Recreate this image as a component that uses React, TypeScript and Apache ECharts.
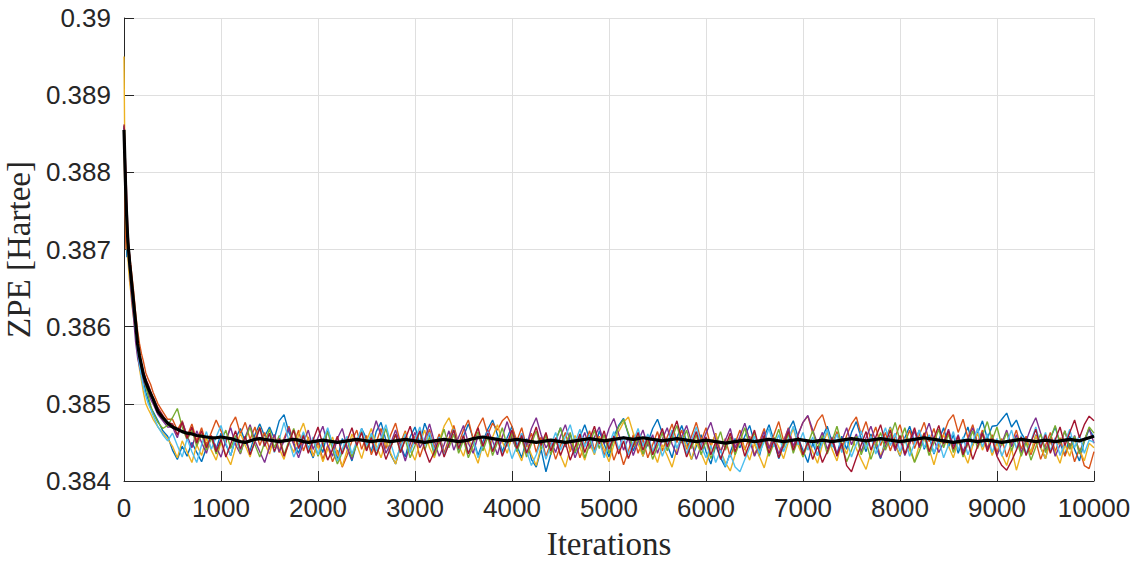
import { useEffect, useRef } from "react";
import * as echarts from "echarts";

// iteration grid shared by every run
const iterations = [
  0, 10, 20, 30, 40, 50, 60, 70, 80, 100, 120, 140, 160, 180, 200, 225, 250, 275, 300, 350, 400, 450,
  500, 550, 600, 650, 700, 750, 800, 850, 900, 950,
  1000, 1050, 1100, 1150, 1200, 1250, 1300, 1350, 1400, 1450,
  1500, 1550, 1600, 1650, 1700, 1750, 1800, 1850, 1900, 1950,
  2000, 2050, 2100, 2150, 2200, 2250, 2300, 2350, 2400, 2450,
  2500, 2550, 2600, 2650, 2700, 2750, 2800, 2850, 2900, 2950,
  3000, 3050, 3100, 3150, 3200, 3250, 3300, 3350, 3400, 3450,
  3500, 3550, 3600, 3650, 3700, 3750, 3800, 3850, 3900, 3950,
  4000, 4050, 4100, 4150, 4200, 4250, 4300, 4350, 4400, 4450,
  4500, 4550, 4600, 4650, 4700, 4750, 4800, 4850, 4900, 4950,
  5000, 5050, 5100, 5150, 5200, 5250, 5300, 5350, 5400, 5450,
  5500, 5550, 5600, 5650, 5700, 5750, 5800, 5850, 5900, 5950,
  6000, 6050, 6100, 6150, 6200, 6250, 6300, 6350, 6400, 6450,
  6500, 6550, 6600, 6650, 6700, 6750, 6800, 6850, 6900, 6950,
  7000, 7050, 7100, 7150, 7200, 7250, 7300, 7350, 7400, 7450,
  7500, 7550, 7600, 7650, 7700, 7750, 7800, 7850, 7900, 7950,
  8000, 8050, 8100, 8150, 8200, 8250, 8300, 8350, 8400, 8450,
  8500, 8550, 8600, 8650, 8700, 8750, 8800, 8850, 8900, 8950,
  9000, 9050, 9100, 9150, 9200, 9250, 9300, 9350, 9400, 9450,
  9500, 9550, 9600, 9650, 9700, 9750, 9800, 9850, 9900, 9950,
  10000,
];

// ZPE [Hartree] of each independent run
const runBlue = [
  0.38860, 0.38790, 0.38720, 0.38690, 0.38700, 0.38680, 0.38672, 0.38660, 0.38640, 0.38625, 0.38600,
  0.38570, 0.38555, 0.38540, 0.38530, 0.38515, 0.38505, 0.38495, 0.38490, 0.38478, 0.38465, 0.38458,
  0.38440, 0.38428, 0.38445, 0.38432, 0.38450, 0.38437, 0.38425, 0.38443, 0.38458, 0.38441,
  0.38462, 0.38447, 0.38433, 0.38455, 0.38468, 0.38451, 0.38439, 0.38460, 0.38474, 0.38458,
  0.38470, 0.38455, 0.38478, 0.38486, 0.38463, 0.38449, 0.38436, 0.38458, 0.38444, 0.38430,
  0.38452, 0.38437, 0.38466, 0.38448, 0.38429, 0.38455, 0.38442, 0.38426, 0.38449, 0.38468,
  0.38455, 0.38438, 0.38464, 0.38476, 0.38453, 0.38434, 0.38422, 0.38446, 0.38431, 0.38457,
  0.38470, 0.38449, 0.38475, 0.38458, 0.38437, 0.38460, 0.38435, 0.38452, 0.38469, 0.38440,
  0.38458, 0.38474, 0.38455, 0.38433, 0.38451, 0.38467, 0.38479, 0.38460, 0.38438, 0.38456,
  0.38471, 0.38446, 0.38430, 0.38455, 0.38428, 0.38418, 0.38441, 0.38412, 0.38435, 0.38452,
  0.38469, 0.38444, 0.38461, 0.38436, 0.38457, 0.38473, 0.38454, 0.38437, 0.38465, 0.38448,
  0.38431, 0.38458, 0.38472, 0.38481, 0.38460, 0.38439, 0.38456, 0.38432, 0.38450, 0.38468,
  0.38480, 0.38462, 0.38447, 0.38430, 0.38456, 0.38472, 0.38451, 0.38428, 0.38445, 0.38460,
  0.38438, 0.38422, 0.38446, 0.38430, 0.38418, 0.38437, 0.38455, 0.38443, 0.38458, 0.38472,
  0.38449, 0.38432, 0.38457, 0.38473, 0.38452, 0.38429, 0.38445, 0.38466, 0.38478, 0.38456,
  0.38440, 0.38424, 0.38449, 0.38433, 0.38457, 0.38471, 0.38450, 0.38434, 0.38458, 0.38441,
  0.38463, 0.38477, 0.38455, 0.38438, 0.38461, 0.38445, 0.38429, 0.38454, 0.38470, 0.38448,
  0.38432, 0.38456, 0.38471, 0.38450, 0.38466, 0.38441, 0.38458, 0.38435, 0.38453, 0.38469,
  0.38444, 0.38460, 0.38436, 0.38454, 0.38470, 0.38446, 0.38462, 0.38478, 0.38455, 0.38471,
  0.38472, 0.38480, 0.38488, 0.38470, 0.38479, 0.38462, 0.38452, 0.38436, 0.38460, 0.38443,
  0.38429, 0.38455, 0.38470, 0.38449, 0.38433, 0.38458, 0.38441, 0.38426, 0.38451, 0.38467,
  0.38457,
];

const runOrange = [
  0.38850, 0.38760, 0.38700, 0.38720, 0.38705, 0.38700, 0.38690, 0.38680, 0.38668, 0.38645, 0.38618,
  0.38595, 0.38578, 0.38565, 0.38555, 0.38540, 0.38532, 0.38525, 0.38515, 0.38500, 0.38490, 0.38480,
  0.38480, 0.38466, 0.38478, 0.38458, 0.38474, 0.38452, 0.38469, 0.38447, 0.38463, 0.38479,
  0.38465, 0.38449, 0.38472, 0.38483, 0.38461, 0.38476, 0.38454, 0.38470, 0.38446, 0.38463,
  0.38441, 0.38460, 0.38437, 0.38455, 0.38471, 0.38448, 0.38466, 0.38439, 0.38457, 0.38432,
  0.38451, 0.38428, 0.38446, 0.38425, 0.38440, 0.38418, 0.38433, 0.38452, 0.38466, 0.38441,
  0.38459, 0.38434, 0.38450, 0.38468, 0.38442, 0.38460, 0.38475, 0.38449, 0.38465, 0.38440,
  0.38458, 0.38431, 0.38450, 0.38467, 0.38443, 0.38461, 0.38436, 0.38455, 0.38472, 0.38448,
  0.38466, 0.38479, 0.38454, 0.38470, 0.38482, 0.38460, 0.38475, 0.38466, 0.38478, 0.38484,
  0.38471, 0.38452, 0.38469, 0.38444, 0.38462, 0.38437, 0.38457, 0.38432, 0.38450, 0.38428,
  0.38446, 0.38463, 0.38438, 0.38455, 0.38430, 0.38448, 0.38465, 0.38440, 0.38458, 0.38433,
  0.38452, 0.38427, 0.38444, 0.38421, 0.38439, 0.38460, 0.38436, 0.38454, 0.38430, 0.38447,
  0.38464, 0.38439, 0.38457, 0.38474, 0.38450, 0.38466, 0.38441, 0.38458, 0.38476, 0.38452,
  0.38469, 0.38445, 0.38462, 0.38437, 0.38455, 0.38431, 0.38449, 0.38466, 0.38440, 0.38458,
  0.38433, 0.38451, 0.38468, 0.38443, 0.38460, 0.38477, 0.38452, 0.38469, 0.38444, 0.38461,
  0.38476, 0.38484, 0.38462, 0.38478, 0.38486, 0.38465, 0.38447, 0.38464, 0.38441, 0.38459,
  0.38474, 0.38483, 0.38460, 0.38477, 0.38453, 0.38470, 0.38446, 0.38463, 0.38439, 0.38457,
  0.38473, 0.38449, 0.38466, 0.38442, 0.38460, 0.38476, 0.38451, 0.38468, 0.38444, 0.38461,
  0.38478, 0.38486, 0.38463, 0.38480, 0.38456, 0.38473, 0.38449, 0.38466, 0.38442, 0.38460,
  0.38437, 0.38455, 0.38431, 0.38449, 0.38466, 0.38441, 0.38458, 0.38434, 0.38452, 0.38428,
  0.38446, 0.38463, 0.38438, 0.38456, 0.38432, 0.38449, 0.38425, 0.38442, 0.38420, 0.38416,
  0.38438,
];

const runYellow = [
  0.38950, 0.38800, 0.38740, 0.38710, 0.38690, 0.38670, 0.38655, 0.38645, 0.38630, 0.38610, 0.38590,
  0.38565, 0.38545, 0.38530, 0.38515, 0.38500, 0.38493, 0.38487, 0.38480, 0.38470, 0.38462, 0.38455,
  0.38445, 0.38430, 0.38452, 0.38438, 0.38424, 0.38447, 0.38433, 0.38456, 0.38440, 0.38427,
  0.38450, 0.38434, 0.38421, 0.38443, 0.38462, 0.38446, 0.38431, 0.38455, 0.38470, 0.38449,
  0.38435, 0.38458, 0.38442, 0.38428, 0.38451, 0.38437, 0.38460, 0.38475, 0.38453, 0.38432,
  0.38446, 0.38425, 0.38441, 0.38457, 0.38435, 0.38419, 0.38440, 0.38461, 0.38447, 0.38429,
  0.38452, 0.38468, 0.38446, 0.38430, 0.38453, 0.38436, 0.38422, 0.38445, 0.38463, 0.38441,
  0.38427, 0.38449, 0.38466, 0.38443, 0.38430, 0.38452, 0.38471, 0.38482, 0.38465, 0.38446,
  0.38432, 0.38455, 0.38439, 0.38423, 0.38448, 0.38431, 0.38457, 0.38473, 0.38451, 0.38436,
  0.38458, 0.38440, 0.38426, 0.38450, 0.38434, 0.38420, 0.38445, 0.38462, 0.38439, 0.38454,
  0.38433, 0.38418, 0.38442, 0.38459, 0.38444, 0.38427, 0.38449, 0.38434, 0.38457, 0.38441,
  0.38425, 0.38447, 0.38464, 0.38476, 0.38483, 0.38462, 0.38448, 0.38432, 0.38455, 0.38440,
  0.38424, 0.38447, 0.38433, 0.38418, 0.38441, 0.38458, 0.38445, 0.38428, 0.38450, 0.38436,
  0.38421, 0.38444, 0.38461, 0.38439, 0.38424, 0.38413, 0.38434, 0.38456, 0.38442, 0.38427,
  0.38449, 0.38432, 0.38417, 0.38440, 0.38457, 0.38444, 0.38429, 0.38451, 0.38468, 0.38446,
  0.38431, 0.38453, 0.38438, 0.38423, 0.38447, 0.38463, 0.38441, 0.38426, 0.38450, 0.38435,
  0.38457, 0.38442, 0.38428, 0.38415, 0.38437, 0.38454, 0.38432, 0.38448, 0.38469, 0.38447,
  0.38433, 0.38455, 0.38440, 0.38425, 0.38447, 0.38463, 0.38442, 0.38421, 0.38444, 0.38460,
  0.38445, 0.38430, 0.38452, 0.38438, 0.38423, 0.38446, 0.38462, 0.38440, 0.38455, 0.38433,
  0.38449, 0.38434, 0.38420, 0.38442, 0.38414, 0.38436, 0.38452, 0.38437, 0.38459, 0.38444,
  0.38429, 0.38451, 0.38438, 0.38423, 0.38447, 0.38432, 0.38454, 0.38441, 0.38426, 0.38449,
  0.38443,
];

const runPurple = [
  0.38858, 0.38805, 0.38770, 0.38730, 0.38700, 0.38688, 0.38670, 0.38650, 0.38635, 0.38610, 0.38580,
  0.38560, 0.38548, 0.38538, 0.38530, 0.38522, 0.38514, 0.38506, 0.38500, 0.38486, 0.38478, 0.38470,
  0.38470, 0.38456, 0.38477, 0.38459, 0.38443, 0.38465, 0.38450, 0.38436, 0.38458, 0.38444,
  0.38431, 0.38453, 0.38469, 0.38447, 0.38435, 0.38457, 0.38473, 0.38452, 0.38438, 0.38424,
  0.38444, 0.38460, 0.38438, 0.38452, 0.38469, 0.38447, 0.38430, 0.38450, 0.38466, 0.38441,
  0.38456, 0.38471, 0.38447, 0.38432, 0.38455, 0.38468, 0.38444, 0.38428, 0.38451, 0.38465,
  0.38440, 0.38457, 0.38478, 0.38459, 0.38436, 0.38449, 0.38466, 0.38446, 0.38426, 0.38448,
  0.38463, 0.38443, 0.38454, 0.38474, 0.38451, 0.38432, 0.38447, 0.38465, 0.38440, 0.38457,
  0.38472, 0.38449, 0.38436, 0.38459, 0.38444, 0.38466, 0.38452, 0.38434, 0.38457, 0.38477,
  0.38455, 0.38440, 0.38462, 0.38446, 0.38468, 0.38482, 0.38460, 0.38443, 0.38453, 0.38437,
  0.38458, 0.38473, 0.38451, 0.38430, 0.38446, 0.38463, 0.38442, 0.38457, 0.38470, 0.38448,
  0.38468, 0.38481, 0.38461, 0.38440, 0.38456, 0.38433, 0.38451, 0.38466, 0.38445, 0.38460,
  0.38436, 0.38454, 0.38469, 0.38448, 0.38434, 0.38457, 0.38472, 0.38451, 0.38428, 0.38446,
  0.38462, 0.38476, 0.38454, 0.38438, 0.38453, 0.38468, 0.38443, 0.38458, 0.38475, 0.38453,
  0.38432, 0.38447, 0.38464, 0.38442, 0.38456, 0.38435, 0.38451, 0.38468, 0.38445, 0.38460,
  0.38476, 0.38485, 0.38466, 0.38448, 0.38463, 0.38441, 0.38457, 0.38435, 0.38452, 0.38469,
  0.38447, 0.38461, 0.38438, 0.38456, 0.38471, 0.38451, 0.38430, 0.38445, 0.38460, 0.38439,
  0.38455, 0.38433, 0.38448, 0.38465, 0.38443, 0.38458, 0.38475, 0.38453, 0.38437, 0.38450,
  0.38467, 0.38445, 0.38460, 0.38438, 0.38454, 0.38469, 0.38448, 0.38463, 0.38441, 0.38456,
  0.38433, 0.38449, 0.38466, 0.38444, 0.38460, 0.38437, 0.38452, 0.38469, 0.38482, 0.38462,
  0.38440, 0.38456, 0.38432, 0.38447, 0.38465, 0.38443, 0.38459, 0.38437, 0.38453, 0.38468,
  0.38449,
];

const runGreen = [
  0.38852, 0.38815, 0.38775, 0.38740, 0.38715, 0.38700, 0.38685, 0.38672, 0.38660, 0.38635, 0.38608,
  0.38580, 0.38563, 0.38548, 0.38535, 0.38523, 0.38510, 0.38498, 0.38488, 0.38476, 0.38468, 0.38472,
  0.38482, 0.38494, 0.38470, 0.38453, 0.38466, 0.38445, 0.38461, 0.38440, 0.38456, 0.38435,
  0.38451, 0.38466, 0.38442, 0.38459, 0.38436, 0.38454, 0.38470, 0.38447, 0.38431, 0.38450,
  0.38467, 0.38443, 0.38459, 0.38434, 0.38452, 0.38468, 0.38446, 0.38462, 0.38438, 0.38455,
  0.38432, 0.38447, 0.38464, 0.38441, 0.38422, 0.38437, 0.38455, 0.38431, 0.38448, 0.38465,
  0.38441, 0.38459, 0.38434, 0.38450, 0.38468, 0.38444, 0.38460, 0.38437, 0.38454, 0.38430,
  0.38446, 0.38464, 0.38440, 0.38457, 0.38433, 0.38449, 0.38467, 0.38443, 0.38461, 0.38436,
  0.38453, 0.38430, 0.38446, 0.38464, 0.38439, 0.38457, 0.38433, 0.38450, 0.38469, 0.38445,
  0.38462, 0.38438, 0.38455, 0.38431, 0.38448, 0.38465, 0.38441, 0.38459, 0.38434, 0.38452,
  0.38469, 0.38446, 0.38463, 0.38437, 0.38455, 0.38430, 0.38447, 0.38466, 0.38442, 0.38460,
  0.38436, 0.38453, 0.38470, 0.38480, 0.38462, 0.38444, 0.38459, 0.38435, 0.38452, 0.38428,
  0.38445, 0.38463, 0.38439, 0.38456, 0.38472, 0.38449, 0.38466, 0.38442, 0.38460, 0.38434,
  0.38452, 0.38429, 0.38446, 0.38464, 0.38440, 0.38457, 0.38434, 0.38451, 0.38469, 0.38445,
  0.38463, 0.38438, 0.38456, 0.38432, 0.38449, 0.38467, 0.38443, 0.38461, 0.38436, 0.38454,
  0.38431, 0.38448, 0.38465, 0.38442, 0.38459, 0.38435, 0.38452, 0.38471, 0.38447, 0.38425,
  0.38440, 0.38458, 0.38434, 0.38451, 0.38428, 0.38446, 0.38463, 0.38440, 0.38457, 0.38476,
  0.38452, 0.38469, 0.38445, 0.38424, 0.38439, 0.38457, 0.38433, 0.38450, 0.38467, 0.38443,
  0.38461, 0.38437, 0.38454, 0.38431, 0.38448, 0.38465, 0.38442, 0.38459, 0.38477, 0.38453,
  0.38470, 0.38446, 0.38463, 0.38439, 0.38456, 0.38432, 0.38450, 0.38427, 0.38444, 0.38461,
  0.38437, 0.38455, 0.38472, 0.38448, 0.38465, 0.38441, 0.38458, 0.38435, 0.38452, 0.38470,
  0.38462,
];

const runSky = [
  0.38856, 0.38800, 0.38760, 0.38725, 0.38705, 0.38685, 0.38672, 0.38660, 0.38645, 0.38620, 0.38595,
  0.38568, 0.38550, 0.38535, 0.38522, 0.38510, 0.38500, 0.38493, 0.38485, 0.38470, 0.38460, 0.38452,
  0.38462, 0.38446, 0.38431, 0.38455, 0.38438, 0.38424, 0.38447, 0.38464, 0.38441, 0.38457,
  0.38472, 0.38449, 0.38433, 0.38456, 0.38440, 0.38458, 0.38435, 0.38451, 0.38468, 0.38445,
  0.38461, 0.38437, 0.38454, 0.38476, 0.38452, 0.38431, 0.38446, 0.38464, 0.38440, 0.38457,
  0.38434, 0.38452, 0.38469, 0.38447, 0.38426, 0.38441, 0.38458, 0.38435, 0.38452, 0.38468,
  0.38446, 0.38462, 0.38439, 0.38455, 0.38473, 0.38449, 0.38428, 0.38443, 0.38461, 0.38437,
  0.38454, 0.38470, 0.38446, 0.38463, 0.38439, 0.38457, 0.38433, 0.38449, 0.38467, 0.38443,
  0.38460, 0.38436, 0.38453, 0.38430, 0.38446, 0.38464, 0.38440, 0.38458, 0.38434, 0.38451,
  0.38429, 0.38445, 0.38462, 0.38439, 0.38420, 0.38434, 0.38452, 0.38428, 0.38446, 0.38463,
  0.38440, 0.38457, 0.38473, 0.38450, 0.38467, 0.38444, 0.38460, 0.38436, 0.38453, 0.38430,
  0.38447, 0.38464, 0.38441, 0.38458, 0.38434, 0.38451, 0.38468, 0.38445, 0.38461, 0.38438,
  0.38455, 0.38432, 0.38449, 0.38466, 0.38442, 0.38459, 0.38435, 0.38452, 0.38470, 0.38446,
  0.38430, 0.38446, 0.38424, 0.38440, 0.38419, 0.38435, 0.38418, 0.38412, 0.38428, 0.38443,
  0.38458, 0.38436, 0.38451, 0.38468, 0.38444, 0.38460, 0.38438, 0.38454, 0.38471, 0.38447,
  0.38463, 0.38440, 0.38457, 0.38433, 0.38450, 0.38467, 0.38444, 0.38461, 0.38437, 0.38454,
  0.38431, 0.38448, 0.38465, 0.38442, 0.38458, 0.38435, 0.38452, 0.38469, 0.38446, 0.38462,
  0.38438, 0.38455, 0.38432, 0.38449, 0.38466, 0.38443, 0.38460, 0.38436, 0.38453, 0.38430,
  0.38447, 0.38464, 0.38440, 0.38457, 0.38434, 0.38451, 0.38468, 0.38444, 0.38461, 0.38437,
  0.38455, 0.38432, 0.38449, 0.38466, 0.38442, 0.38459, 0.38435, 0.38452, 0.38470, 0.38446,
  0.38463, 0.38439, 0.38456, 0.38433, 0.38450, 0.38467, 0.38443, 0.38460, 0.38436, 0.38453,
  0.38450,
];

const runRed = [
  0.38862, 0.38830, 0.38800, 0.38760, 0.38725, 0.38705, 0.38690, 0.38675, 0.38660, 0.38632, 0.38604,
  0.38580, 0.38565, 0.38552, 0.38542, 0.38532, 0.38525, 0.38516, 0.38508, 0.38495, 0.38485, 0.38476,
  0.38474, 0.38460, 0.38476, 0.38455, 0.38470, 0.38449, 0.38465, 0.38443, 0.38459, 0.38438,
  0.38454, 0.38431, 0.38448, 0.38465, 0.38441, 0.38458, 0.38434, 0.38451, 0.38469, 0.38445,
  0.38462, 0.38438, 0.38455, 0.38432, 0.38449, 0.38466, 0.38442, 0.38459, 0.38436, 0.38453,
  0.38470, 0.38447, 0.38427, 0.38441, 0.38458, 0.38435, 0.38452, 0.38469, 0.38446, 0.38463,
  0.38439, 0.38456, 0.38433, 0.38450, 0.38428, 0.38444, 0.38461, 0.38437, 0.38454, 0.38471,
  0.38448, 0.38465, 0.38441, 0.38424, 0.38438, 0.38455, 0.38431, 0.38448, 0.38466, 0.38442,
  0.38459, 0.38435, 0.38452, 0.38469, 0.38445, 0.38462, 0.38438, 0.38455, 0.38432, 0.38449,
  0.38466, 0.38442, 0.38459, 0.38436, 0.38453, 0.38470, 0.38446, 0.38463, 0.38439, 0.38456,
  0.38433, 0.38450, 0.38427, 0.38444, 0.38461, 0.38437, 0.38454, 0.38471, 0.38448, 0.38465,
  0.38441, 0.38458, 0.38435, 0.38452, 0.38429, 0.38446, 0.38463, 0.38440, 0.38457, 0.38434,
  0.38451, 0.38468, 0.38444, 0.38461, 0.38478, 0.38454, 0.38431, 0.38447, 0.38464, 0.38440,
  0.38457, 0.38434, 0.38451, 0.38428, 0.38445, 0.38462, 0.38438, 0.38455, 0.38432, 0.38449,
  0.38466, 0.38442, 0.38459, 0.38436, 0.38453, 0.38430, 0.38447, 0.38464, 0.38440, 0.38457,
  0.38434, 0.38451, 0.38428, 0.38445, 0.38424, 0.38438, 0.38455, 0.38432, 0.38449, 0.38420,
  0.38412, 0.38430, 0.38447, 0.38464, 0.38440, 0.38457, 0.38473, 0.38449, 0.38466, 0.38442,
  0.38459, 0.38435, 0.38452, 0.38469, 0.38445, 0.38462, 0.38438, 0.38455, 0.38472, 0.38448,
  0.38465, 0.38441, 0.38458, 0.38434, 0.38451, 0.38428, 0.38445, 0.38462, 0.38438, 0.38455,
  0.38432, 0.38420, 0.38414, 0.38426, 0.38440, 0.38457, 0.38433, 0.38450, 0.38467, 0.38443,
  0.38460, 0.38436, 0.38453, 0.38470, 0.38446, 0.38463, 0.38479, 0.38456, 0.38473, 0.38484,
  0.38478,
];

// mean over all runs (black curve)
const runMean = [
  0.38855, 0.38810, 0.38765, 0.38735, 0.38710, 0.38695, 0.38680, 0.38668, 0.38655, 0.38630, 0.38605,
  0.38578, 0.38562, 0.38550, 0.38538, 0.38528, 0.38520, 0.38513, 0.38506, 0.38490, 0.38482, 0.38475,
  0.38470, 0.38467, 0.38464, 0.38462, 0.38461, 0.38459, 0.38458, 0.38457, 0.38456, 0.38456,
  0.38457, 0.38456, 0.38455, 0.38453, 0.38451, 0.38450, 0.38452, 0.38454, 0.38455, 0.38454,
  0.38453, 0.38452, 0.38451, 0.38452, 0.38453, 0.38454, 0.38453, 0.38451, 0.38450, 0.38451,
  0.38452, 0.38453, 0.38452, 0.38451, 0.38450, 0.38451, 0.38452, 0.38453, 0.38454, 0.38453,
  0.38452, 0.38451, 0.38452, 0.38453, 0.38452, 0.38451, 0.38452, 0.38453, 0.38454, 0.38453,
  0.38452, 0.38451, 0.38450, 0.38451, 0.38452, 0.38453, 0.38454, 0.38453, 0.38452, 0.38451,
  0.38452, 0.38453, 0.38455, 0.38456, 0.38457, 0.38456, 0.38455, 0.38454, 0.38453, 0.38452,
  0.38453, 0.38454, 0.38453, 0.38452, 0.38451, 0.38450, 0.38451, 0.38452, 0.38453, 0.38452,
  0.38451, 0.38450, 0.38451, 0.38452, 0.38453, 0.38454, 0.38455, 0.38454, 0.38453, 0.38452,
  0.38453, 0.38454, 0.38455, 0.38456, 0.38455, 0.38454, 0.38455, 0.38456, 0.38455, 0.38454,
  0.38453, 0.38452, 0.38453, 0.38454, 0.38455, 0.38454, 0.38453, 0.38452, 0.38451, 0.38452,
  0.38453, 0.38452, 0.38451, 0.38450, 0.38449, 0.38450, 0.38451, 0.38452, 0.38453, 0.38452,
  0.38451, 0.38452, 0.38453, 0.38454, 0.38453, 0.38452, 0.38451, 0.38452, 0.38453, 0.38454,
  0.38453, 0.38452, 0.38451, 0.38452, 0.38453, 0.38452, 0.38451, 0.38452, 0.38453, 0.38454,
  0.38455, 0.38454, 0.38453, 0.38452, 0.38453, 0.38454, 0.38455, 0.38454, 0.38453, 0.38452,
  0.38451, 0.38452, 0.38453, 0.38454, 0.38455, 0.38456, 0.38455, 0.38454, 0.38453, 0.38452,
  0.38451, 0.38450, 0.38451, 0.38452, 0.38453, 0.38452, 0.38451, 0.38452, 0.38453, 0.38452,
  0.38451, 0.38450, 0.38451, 0.38452, 0.38453, 0.38454, 0.38453, 0.38452, 0.38451, 0.38452,
  0.38453, 0.38452, 0.38451, 0.38452, 0.38453, 0.38454, 0.38453, 0.38452, 0.38454, 0.38456,
  0.38458,
];

const runs = [runBlue, runOrange, runYellow, runPurple, runGreen, runSky, runRed];
// MATLAB default line colour order
const runColors = ["#0072BD", "#D95319", "#EDB120", "#7E2F8E", "#77AC30", "#4DBEEE", "#A2142F"];

const axisColor = "#262626";
const gridColor = "#dfdfdf";
const sansFont = "'Liberation Sans', Arial, Helvetica, sans-serif";
const serifFont = "'Liberation Serif', 'DejaVu Serif', serif";

const toPairs = (ys: number[]) => iterations.map((x, i) => [x, ys[i]]);

export default function App() {
  const chartRef = useRef<HTMLDivElement>(null);

  useEffect(() => {
    const chart = echarts.init(chartRef.current, null, { renderer: "svg" });

    const series: any[] = runs.map((ys, k) => ({
      type: "line",
      data: toPairs(ys),
      showSymbol: false,
      symbol: "none",
      silent: true,
      lineStyle: { width: 1.4, color: runColors[k] },
      z: 2,
    }));
    series.push({
      type: "line",
      data: toPairs(runMean),
      showSymbol: false,
      symbol: "none",
      silent: true,
      lineStyle: { width: 3.2, color: "#000000" },
      z: 3,
    });

    chart.setOption({
      animation: false,
      backgroundColor: "#ffffff",
      grid: { left: 124, right: 39, top: 18, bottom: 86, outerBoundsMode: "none" },
      xAxis: {
        type: "value",
        min: 0,
        max: 10000,
        interval: 1000,
        name: "Iterations",
        nameLocation: "middle",
        nameGap: 46,
        nameTextStyle: { fontFamily: serifFont, fontSize: 33, color: axisColor },
        axisLine: { show: true, lineStyle: { color: axisColor, width: 1 } },
        axisTick: { show: true, inside: true, length: 10, lineStyle: { color: axisColor } },
        axisLabel: {
          fontFamily: sansFont,
          fontSize: 26,
          color: axisColor,
          margin: 14,
          showMinLabel: true,
          showMaxLabel: true,
          formatter: (v: number) => String(v),
        },
        splitLine: { show: true, lineStyle: { color: gridColor, width: 1 } },
      },
      yAxis: {
        type: "value",
        min: 0.384,
        max: 0.39,
        interval: 0.001,
        name: "ZPE [Hartee]",
        nameLocation: "middle",
        nameGap: 88,
        nameTextStyle: { fontFamily: serifFont, fontSize: 33, color: axisColor },
        axisLine: { show: true, lineStyle: { color: axisColor, width: 1 } },
        axisTick: { show: true, inside: true, length: 10, lineStyle: { color: axisColor } },
        axisLabel: {
          fontFamily: sansFont,
          fontSize: 26,
          color: axisColor,
          margin: 13,
          formatter: (v: number) => String(Number(v.toFixed(3))),
        },
        splitLine: { show: true, lineStyle: { color: gridColor, width: 1 } },
      },
      series,
    });

    return () => chart.dispose();
  }, []);

  return (
    <div
      ref={chartRef}
      style={{ position: "fixed", left: 0, top: 0, width: 1133, height: 567 }}
    />
  );
}
